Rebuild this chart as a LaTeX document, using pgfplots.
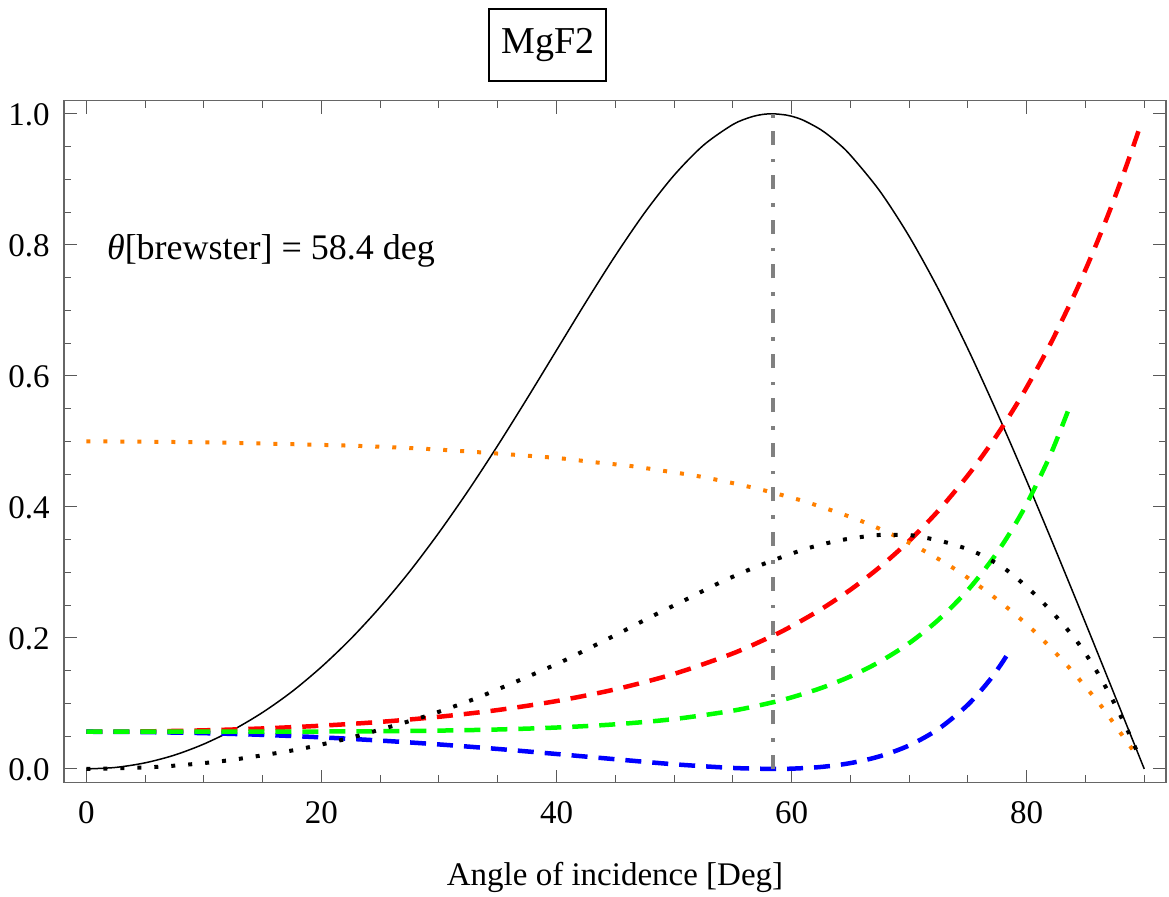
\documentclass[border=0pt]{standalone}
\usepackage{fontspec}
\setmainfont{Liberation Serif}
\usepackage{pgfplots}
\pgfplotsset{compat=1.18}
\definecolor{morange}{RGB}{255,128,0}
\definecolor{mgreen}{RGB}{0,255,0}
\definecolor{mgray}{RGB}{128,128,128}
\begin{document}
\begin{tikzpicture}
\useasboundingbox (0,0) rectangle (584.5pt,448.5pt);
\begin{axis}[
  at={(32pt,57.15pt)}, anchor=south west,
  scale only axis, width=551pt, height=341pt,
  xmin=-1.9, xmax=91.85, ymin=-0.021, ymax=1.02,
  xtick={0,20,40,60,80},
  minor xtick={5,10,15,25,30,35,45,50,55,65,70,75,85,90},
  ytick={0,0.2,0.4,0.6,0.8,1.0},
  minor ytick={0.05,0.1,0.15,0.25,0.3,0.35,0.45,0.5,0.55,0.65,0.7,0.75,0.85,0.9,0.95},
  tick align=inside,
  major tick length=6.5pt, minor tick length=3.75pt,
  every tick/.style={black!65, line width=0.5pt},
  axis line style={black!60, line width=0.75pt},
  /pgf/number format/assume math mode=true,
  tick label style={font=\fontsize{16.5}{19.8}\selectfont, inner sep=0pt},
  yticklabel style={/pgf/number format/fixed, /pgf/number format/fixed zerofill, /pgf/number format/precision=1},
  xticklabel style={anchor=base, yshift=-20.65pt},
  yticklabel style={anchor=base east, xshift=-7pt, yshift=-6pt},
  xlabel={Angle of incidence [Deg]},
  xlabel style={at={(axis description cs:0.5,0)}, anchor=base, yshift=-51.4pt, inner sep=0pt, font=\fontsize{16.5}{19.8}\selectfont},
  clip=false,
]
% polarization of reflected light (black solid)
\addplot[black, line width=0.75pt, smooth] coordinates {
(0,0) (2.5,0.0023) (5,0.0093) (7.5,0.0211) (10,0.0380) (12.5,0.0597) (15,0.0863) (17.5,0.1181) (20,0.1557) (22.5,0.1986) (25,0.2472) (27.5,0.3012) (30,0.3608) (32.5,0.4251) (35,0.4937) (37.5,0.5655) (40,0.6391) (42.5,0.7126) (45,0.7834) (47.5,0.8490) (50,0.9062) (52.5,0.9520) (55,0.9836) (56.5,0.9948) (57.5,0.9989) (58.4,1.0) (59.5,0.9982) (60,0.9963) (61,0.9901) (62.5,0.9755) (63.75,0.9583) (65,0.9369) (67.5,0.8821) (70,0.8129) (72.5,0.7318) (75,0.6410) (77,0.5630) (78.5,0.5021) (80,0.4395) (82,0.3540) (84,0.2668) (85,0.2228) (86,0.1785) (87,0.1340) (88,0.0894) (89,0.0447) (90,0)
};
% Rs (red dashed)
\addplot[red, line width=2.25pt, dash pattern=on 8pt off 5.5pt, smooth] coordinates {
(0,0.0568) (5,0.0573) (10,0.0589) (15,0.0618) (20,0.0660) (25,0.0718) (30,0.0796) (35,0.0899) (40,0.1036) (45,0.1215) (50,0.1451) (55,0.1763) (58.4,0.2033) (60,0.2179) (62.5,0.2437) (65,0.2735) (67.5,0.3081) (70,0.3481) (72.5,0.3945) (75,0.4482) (77,0.4973) (78.5,0.5381) (80,0.5825) (82,0.6482) (84,0.7219) (85,0.7620) (86,0.8044) (87,0.8493) (88,0.8968) (89,0.9470) (89.6,0.9785)
};
% Rp (blue dashed)
\addplot[blue, line width=2.25pt, dash pattern=on 8pt off 5.5pt, smooth] coordinates {
(0,0.0568) (5,0.0562) (10,0.0546) (15,0.0520) (20,0.0482) (25,0.0433) (30,0.0374) (35,0.0305) (40,0.0228) (45,0.0148) (50,0.0071) (55,0.0015) (58.4,0) (60,0.0004) (62.5,0.0030) (65,0.0089) (67.5,0.0193) (70,0.0359) (72.5,0.0611) (75,0.0981) (77,0.1390) (78.4,0.1757)
};
% average (green dashed)
\addplot[mgreen, line width=2.25pt, dash pattern=on 8pt off 5.5pt, smooth] coordinates {
(0,0.0568) (5,0.0568) (10,0.0568) (15,0.0569) (20,0.0571) (25,0.0575) (30,0.0585) (35,0.0602) (40,0.0632) (45,0.0681) (50,0.0761) (55,0.0889) (58.4,0.1017) (60,0.1092) (62.5,0.1234) (65,0.1412) (67.5,0.1637) (70,0.1920) (72.5,0.2278) (75,0.2731) (77,0.3182) (78.5,0.3582) (80,0.4047) (82,0.4787) (83.6,0.5505)
};
% orange dotted
\addplot[morange, line width=2pt, dash pattern=on 2pt off 6.5pt, smooth] coordinates {
(0,0.500) (5,0.4995) (11.6,0.498) (17.4,0.4957) (23.2,0.493) (28.9,0.4885) (33.3,0.4835) (37.6,0.478) (40.4,0.474) (43.3,0.468) (46.2,0.4626) (49.1,0.455) (52.0,0.447) (54.8,0.437) (57.6,0.4255) (60.4,0.412) (61.75,0.4046) (65.9,0.3786) (69.8,0.347) (73.6,0.3084) (77.1,0.264) (80.4,0.2142) (83.4,0.1588) (86.2,0.0992) (87.9,0.057) (89.6,0.0148)
};
% black dotted
\addplot[black, line width=2pt, dash pattern=on 2pt off 6.5pt, smooth] coordinates {
(0,0) (5.9,0.003) (11.6,0.012) (17.3,0.0275) (20.1,0.0377) (23.0,0.050) (28.6,0.079) (32.6,0.104) (35.2,0.123) (37.9,0.1435) (40.6,0.165) (43.2,0.188) (45.75,0.211) (48.3,0.2346) (50.9,0.2575) (53.5,0.281) (56.1,0.302) (58.9,0.3216) (61.6,0.338) (64.3,0.3496) (67.2,0.3568) (68.6,0.357) (70.1,0.3568) (72.9,0.347) (75.6,0.331) (78.1,0.306) (80.3,0.273) (82.3,0.2366) (84.2,0.1965) (85.8,0.1537) (87.2,0.109) (88.5,0.062) (89.1,0.038) (89.6,0.018)
};
% Brewster angle line
\addplot[mgray, line width=2pt, dash pattern=on 7pt off 6.5pt on 1.8pt off 7pt] coordinates {(58.4,0) (58.4,1)};
\node[anchor=base west, inner sep=0pt, font=\fontsize{18}{21.6}\selectfont] at (axis cs:1.73,0.777) {\textit{θ}[brewster] = 58.4 deg};
\end{axis}
\node[draw, line width=1pt, minimum width=58.5pt, minimum height=36pt, inner sep=0pt, font=\fontsize{19}{22.8}\selectfont] at (273.85pt,426pt) {MgF2};
\end{tikzpicture}
\end{document}
